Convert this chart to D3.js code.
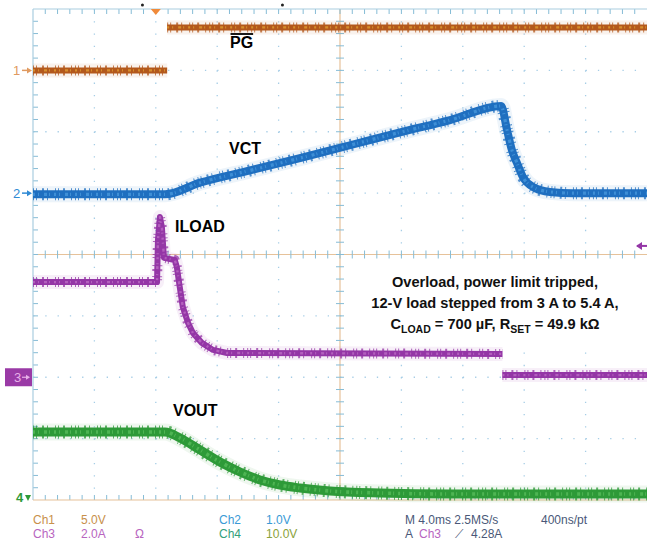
<!DOCTYPE html>
<html><head><meta charset="utf-8">
<script src="https://cdn.jsdelivr.net/npm/d3@7"></script>
<style>html,body{margin:0;padding:0;background:#fff;} svg{display:block;font-family:"Liberation Sans",Arial,sans-serif;}</style>
</head><body>
<svg id="c" width="647" height="545"></svg>
<script>
// ---- data (time in ms relative to trigger, 4 ms/div) ----
const timeDomain = [-8, 32];
const channelNames = ["Ch1", "Ch2", "Ch3", "Ch4"];
const channelScale = [5, 1, 2, 10];        // units per division
const channelOffsetDiv = [3, 1, -2, -4];   // ground marker position in divisions

// null = trace break (no connecting segment drawn by the scope)
const pgTime  = [-8, 0.74, 0.74, 0.74, 32];
const pgVolts = [0, 0, null, 3.5, 3.5];

const vctTime  = [-8, 0.6, 2.88, 6.14, 9.39, 12.65, 15.91, 19.17, 22.5, 22.88, 23.2, 23.53, 23.92, 24.57, 25.68, 27.17, 32];
const vctVolts = [-0.02, -0.02, 0.17, 0.37, 0.57, 0.78, 0.99, 1.19, 1.42, 1.03, 0.70, 0.49, 0.26, 0.10, 0.02, 0.0, 0.0];

const iloadTime = [-8, 0.08, 0.14, 0.27, 0.4, 0.53, 1.24, 1.37, 1.56, 1.76, 2.1, 2.42, 3.0, 3.73, 4.64, 22.58, 22.58, 22.58, 32];
const iloadAmps = [3.1, 3.1, 4.47, 5.22, 4.87, 3.89, 3.82, 3.59, 2.94, 2.29, 1.77, 1.44, 1.12, 0.89, 0.79, 0.76, null, 0.07, 0.07];

const voutTime  = [-8, 0.6, 1.58, 2.88, 4.18, 5.49, 6.79, 8.09, 9.39, 11.35, 14.6, 19.17, 32];
const voutVolts = [11.08, 11.08, 10.1, 8.15, 6.19, 4.56, 3.26, 2.44, 1.96, 1.47, 1.14, 0.98, 0.98];

const traceLabels = ["PG", "VCT", "ILOAD", "VOUT"];
const noteLines = ["Overload, power limit tripped,", "12-V load stepped from 3 A to 5.4 A,"];
const readRow1 = [["Ch1", "5.0V", ""], ["Ch2", "1.0V"], ["M 4.0ms 2.5MS/s", "400ns/pt"]];
const readRow2 = [["Ch3", "2.0A", "Ω"], ["Ch4", "10.0V"]];
const trigText = ["A", "Ch3", "⟋", "4.28A"];

// ---- layout ----
const X0 = 33, X1 = 647, Y0 = 9, Y1 = 500;
const NDX = 10, NDY = 8;
const DX = (X1 - X0) / NDX, DY = (Y1 - Y0) / NDY;
const svg = d3.select("#c");

const x = d3.scaleLinear().domain(timeDomain).range([X0, X1]);
const yCh = i => d3.scaleLinear()
  .domain([(-NDY/2 - channelOffsetDiv[i]) * channelScale[i], (NDY/2 - channelOffsetDiv[i]) * channelScale[i]])
  .range([Y1, Y0]);
const ys = [0,1,2,3].map(yCh);

// ---- grid ----
const g = svg.append("g");
const gridCol = "#a6cde6";
d3.range(1, NDX).filter(i => i !== NDX/2).forEach(i => {
  g.append("line").attr("x1", X0 + i*DX).attr("x2", X0 + i*DX).attr("y1", Y0).attr("y2", Y1)
    .attr("stroke", gridCol).attr("stroke-width", 1.3).attr("stroke-dasharray", "1.3 " + (DY/5 - 1.3).toFixed(2));
});
d3.range(1, NDY).filter(j => j !== NDY/2).forEach(j => {
  g.append("line").attr("x1", X0).attr("x2", X1).attr("y1", Y0 + j*DY).attr("y2", Y0 + j*DY)
    .attr("stroke", gridCol).attr("stroke-width", 1.3).attr("stroke-dasharray", "1.3 " + (DX/5 - 1.3).toFixed(2));
});
const cx = X0 + DX*NDX/2, cy = Y0 + DY*NDY/2;
const axCol = "#e6c29a", tickCol = "#86bcd6";
g.append("line").attr("x1", X0).attr("x2", X1).attr("y1", cy).attr("y2", cy).attr("stroke", axCol).attr("stroke-width", 1.2);
g.append("line").attr("x1", cx).attr("x2", cx).attr("y1", Y0).attr("y2", Y1).attr("stroke", axCol).attr("stroke-width", 1.2);
d3.range(1, NDX*5).forEach(k => {
  const xx = X0 + k*DX/5;
  g.append("line").attr("x1", xx).attr("x2", xx).attr("y1", cy-4).attr("y2", cy+4).attr("stroke", tickCol);
  g.append("line").attr("x1", xx).attr("x2", xx).attr("y1", Y0).attr("y2", Y0+5).attr("stroke", tickCol);
  g.append("line").attr("x1", xx).attr("x2", xx).attr("y1", Y1-5).attr("y2", Y1).attr("stroke", tickCol);
});
d3.range(1, NDY*5).forEach(k => {
  const yy = Y0 + k*DY/5;
  g.append("line").attr("x1", cx-4).attr("x2", cx+4).attr("y1", yy).attr("y2", yy).attr("stroke", tickCol);
  g.append("line").attr("x1", X0).attr("x2", X0+5).attr("y1", yy).attr("y2", yy).attr("stroke", tickCol);
});
g.append("line").attr("x1", X0).attr("x2", X0).attr("y1", Y0).attr("y2", Y1).attr("stroke", "#a9cde0").attr("stroke-width", 1.2);
g.append("line").attr("x1", X0).attr("x2", X1).attr("y1", Y0).attr("y2", Y0).attr("stroke", "#a9cde0").attr("stroke-width", 1.2);
g.append("line").attr("x1", X0).attr("x2", X1).attr("y1", Y1).attr("y2", Y1).attr("stroke", axCol).attr("stroke-width", 1.2);

// ---- label boxes (white) ----
const boxes = svg.append("g").attr("fill", "#fff");

// ---- traces ----
function trace(times, vals, ch, col, light, w, curve) {
  const data = times.map((t, i) => [t, vals[i]]);
  const line = d3.line().defined(d => d[1] != null).x(d => x(d[0])).y(d => ys[ch](d[1])).curve(curve);
  const gg = svg.append("g").attr("fill", "none").attr("stroke-linejoin", "round");
  gg.append("path").attr("d", line(data)).attr("stroke", col).attr("stroke-opacity", 0.08).attr("stroke-width", w + 8);
  gg.append("path").attr("d", line(data)).attr("stroke", col).attr("stroke-width", w);
  gg.append("path").attr("d", line(data)).attr("stroke", col).attr("stroke-width", w + 4)
    .attr("stroke-dasharray", "1 2 1 5 2 3 1 7 1 2 1 4 2 6 1 3").attr("stroke-opacity", 0.75);
  gg.append("path").attr("d", line(data)).attr("stroke", light).attr("stroke-width", w * 0.4)
    .attr("stroke-dasharray", "2 3 1 5 3 2 1 4").attr("stroke-opacity", 0.7);
}
trace(pgTime, pgVolts, 0, "#b3581c", "#e6a533", 6, d3.curveLinear);
trace(vctTime, vctVolts, 1, "#1f6fc0", "#4c9ce0", 8, d3.curveMonotoneX);
trace(iloadTime, iloadAmps, 2, "#9436a6", "#c070c8", 6, d3.curveLinear);
trace(voutTime, voutVolts, 3, "#2e9a38", "#5cc060", 9, d3.curveMonotoneX);

// ---- labels ----
const labelPos = [[230, 48], [229, 154], [175, 232], [173, 416]];
const lab = svg.append("g").attr("font-weight", "bold").attr("font-size", 16).attr("fill", "#000");
traceLabels.forEach((t, i) => {
  const tx = lab.append("text").attr("x", labelPos[i][0]).attr("y", labelPos[i][1]).text(t);
  const bb = tx.node().getBBox();
  boxes.append("rect").attr("x", bb.x - 5).attr("y", bb.y - 1).attr("width", bb.width + 10).attr("height", bb.height + 5);
  if (i === 0) lab.append("line").attr("x1", bb.x + 0.5).attr("x2", bb.x + bb.width)
    .attr("y1", labelPos[i][1] - 14).attr("y2", labelPos[i][1] - 14).attr("stroke", "#000").attr("stroke-width", 1.8);
});

// annotation
boxes.append("rect").attr("x", 345).attr("y", 263).attr("width", 295).attr("height", 79);
const note = svg.append("g").attr("font-weight", "bold").attr("font-size", 14.6).attr("text-anchor", "middle").attr("fill", "#111");
noteLines.forEach((t, i) => note.append("text").attr("x", 495).attr("y", 287 + i*21).text(t));
const l3 = note.append("text").attr("x", 495).attr("y", 329);
l3.append("tspan").text("C");
l3.append("tspan").attr("font-size", 10.5).attr("dy", 4).text("LOAD");
l3.append("tspan").attr("dy", -4).text(" = 700 µF, R");
l3.append("tspan").attr("font-size", 10.5).attr("dy", 4).text("SET");
l3.append("tspan").attr("dy", -4).text(" = 49.9 kΩ");

// ---- channel ground markers ----
const mk = svg.append("g").attr("font-size", 13);
mk.append("text").attr("x", 13).attr("y", ys[0](0) + 5).attr("fill", "#e09a60").text("1");
mk.append("path").attr("d", `M22,${ys[0](0)}H28`).attr("stroke", "#e09a60").attr("stroke-width", 1.5);
mk.append("path").attr("d", `M27,${ys[0](0)-3}L32,${ys[0](0)}L27,${ys[0](0)+3}Z`).attr("fill", "#e09a60");
mk.append("text").attr("x", 13).attr("y", ys[1](0) + 5).attr("fill", "#2f8ad4").text("2");
mk.append("path").attr("d", `M22,${ys[1](0)}H28`).attr("stroke", "#2f8ad4").attr("stroke-width", 1.5);
mk.append("path").attr("d", `M27,${ys[1](0)-3}L32,${ys[1](0)}L27,${ys[1](0)+3}Z`).attr("fill", "#2f8ad4");
mk.append("rect").attr("x", 5).attr("y", ys[2](0) - 9).attr("width", 27).attr("height", 18).attr("fill", "#9a3aa6");
mk.append("text").attr("x", 14).attr("y", ys[2](0) + 5).attr("fill", "#e8b0e8").text("3");
mk.append("path").attr("d", `M22,${ys[2](0)}H27`).attr("stroke", "#e8b0e8").attr("stroke-width", 1.2);
mk.append("path").attr("d", `M26,${ys[2](0)-2.5}L30,${ys[2](0)}L26,${ys[2](0)+2.5}Z`).attr("fill", "#e8b0e8");
mk.append("text").attr("x", 16).attr("y", ys[3](0) + 2).attr("fill", "#2e9a38").attr("font-weight", "bold").text("4");
mk.append("path").attr("d", `M25,${ys[3](0)-5}L31,${ys[3](0)-5}L28,${ys[3](0)+1}Z`).attr("fill", "#2e9a38");

// trigger markers
svg.append("path").attr("d", `M${x(0)-5},${Y0}L${x(0)+5},${Y0}L${x(0)},${Y0+6}Z`).attr("fill", "#f08a3a");
svg.append("circle").attr("cx", x(-0.87)).attr("cy", 5).attr("r", 1.5).attr("fill", "#222");
svg.append("circle").attr("cx", x(8.25)).attr("cy", 5).attr("r", 1.5).attr("fill", "#222");
const tl = ys[2](4.28);
svg.append("path").attr("d", `M637,${tl}H647`).attr("stroke", "#9436a6").attr("stroke-width", 2);
svg.append("path").attr("d", `M636,${tl}L642,${tl-4}L642,${tl+4}Z`).attr("fill", "#9436a6");

// ---- readout ----
const rd = svg.append("g").attr("font-size", 12);
const c1 = "#c8904a", c3 = "#b865c0", c2 = "#3a9ad6", c4 = "#33a07a", c4b = "#8aa23a", cm = "#4a5878";
rd.append("text").attr("x", 33).attr("y", 524).attr("fill", c1).text(readRow1[0][0]);
rd.append("text").attr("x", 81).attr("y", 524).attr("fill", c1).text(readRow1[0][1]);
rd.append("text").attr("x", 219).attr("y", 524).attr("fill", c2).text(readRow1[1][0]);
rd.append("text").attr("x", 266).attr("y", 524).attr("fill", c2).text(readRow1[1][1]);
rd.append("text").attr("x", 405).attr("y", 524).attr("fill", cm).text(readRow1[2][0]);
rd.append("text").attr("x", 541).attr("y", 524).attr("fill", cm).text(readRow1[2][1]);
rd.append("text").attr("x", 33).attr("y", 538).attr("fill", c3).text(readRow2[0][0]);
rd.append("text").attr("x", 81).attr("y", 538).attr("fill", c3).text(readRow2[0][1]);
rd.append("text").attr("x", 135).attr("y", 538).attr("fill", c3).text(readRow2[0][2]);
rd.append("text").attr("x", 219).attr("y", 538).attr("fill", c4).text(readRow2[1][0]);
rd.append("text").attr("x", 266).attr("y", 538).attr("fill", c4b).text(readRow2[1][1]);
rd.append("text").attr("x", 405).attr("y", 538).attr("fill", cm).text(trigText[0]);
rd.append("text").attr("x", 419).attr("y", 538).attr("fill", c3).text(trigText[1]);
rd.append("text").attr("x", 455).attr("y", 538).attr("fill", cm).text(trigText[2]);
rd.append("text").attr("x", 471).attr("y", 538).attr("fill", cm).text(trigText[3]);
</script>
</body></html>
